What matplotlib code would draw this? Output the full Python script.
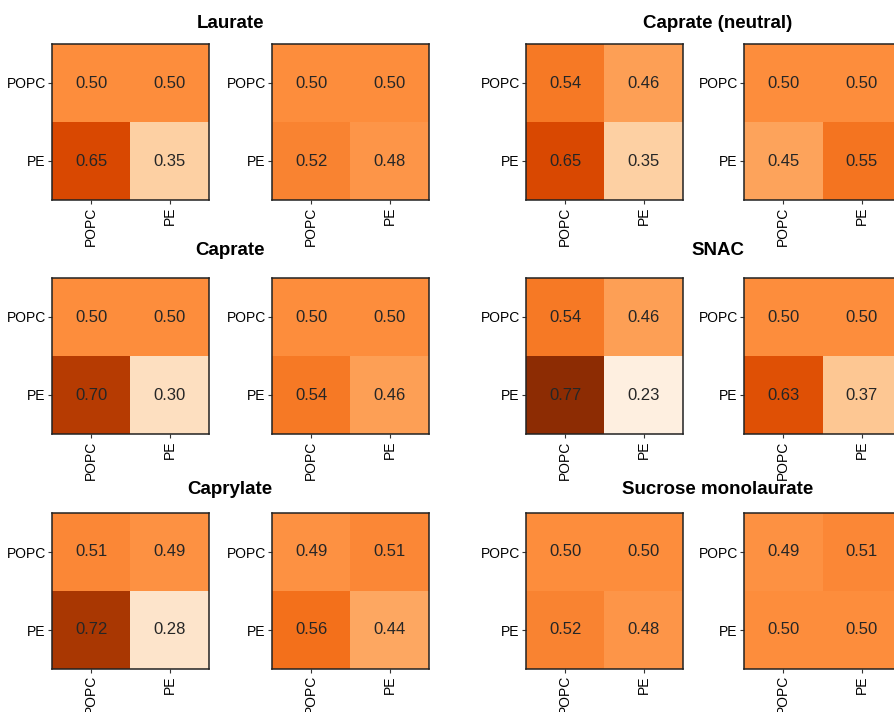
import numpy as np
import matplotlib
matplotlib.use('Agg')
import matplotlib.pyplot as plt

plt.rcParams['font.family'] = ['Liberation Sans', 'DejaVu Sans']

# 数据：每组两个 2x2 矩阵（行 = POPC/PE, 列 = POPC/PE）
lipids = ['POPC', 'PE']
titles = ['Laurate', 'Caprate (neutral)', 'Caprate', 'SNAC',
          'Caprylate', 'Sucrose monolaurate']

laurate_a = [[0.50, 0.50], [0.65, 0.35]]
laurate_b = [[0.50, 0.50], [0.52, 0.48]]
caprate_neutral_a = [[0.54, 0.46], [0.65, 0.35]]
caprate_neutral_b = [[0.50, 0.50], [0.45, 0.55]]
caprate_a = [[0.50, 0.50], [0.70, 0.30]]
caprate_b = [[0.50, 0.50], [0.54, 0.46]]
snac_a = [[0.54, 0.46], [0.77, 0.23]]
snac_b = [[0.50, 0.50], [0.63, 0.37]]
caprylate_a = [[0.51, 0.49], [0.72, 0.28]]
caprylate_b = [[0.49, 0.51], [0.56, 0.44]]
sucrose_a = [[0.50, 0.50], [0.52, 0.48]]
sucrose_b = [[0.49, 0.51], [0.50, 0.50]]

groups = [(laurate_a, laurate_b), (caprate_neutral_a, caprate_neutral_b),
          (caprate_a, caprate_b), (snac_a, snac_b),
          (caprylate_a, caprylate_b), (sucrose_a, sucrose_b)]

W, H = 894, 712
fig = plt.figure(figsize=(W/100, H/100), dpi=100)

# 像素位置
col_left = [52, 272, 526, 744]
row_top = [44, 278, 513]
box_w, box_h = 157, 156
title_x = [230, 718]
title_y = [23, 251, 489]


def draw_map(ax, vals):
    arr = np.array(vals)
    ax.imshow(arr, cmap='Oranges', vmin=0.2, vmax=0.8, aspect='auto')
    for i in range(2):
        for j in range(2):
            ax.text(j, i, '%.2f' % arr[i, j], ha='center', va='center',
                    fontsize=12, color='#262626')
    ax.set_xticks([0, 1])
    ax.set_yticks([0, 1])
    ax.set_xticklabels(lipids, rotation=90, fontsize=10)
    ax.set_yticklabels(lipids, fontsize=10)
    ax.tick_params(length=3, width=0.8, pad=1.5, color='#333333')
    for s in ax.spines.values():
        s.set_linewidth(1.1)
        s.set_color('#222222')


for k, (a, b) in enumerate(groups):
    r = k // 2
    c = k % 2
    for m, vals in enumerate((a, b)):
        x0 = col_left[c*2 + m]
        ax = fig.add_axes([x0/W, 1 - (row_top[r] + box_h)/H, box_w/W, box_h/H])
        draw_map(ax, vals)
    fig.text(title_x[c]/W, 1 - title_y[r]/H, titles[k], ha='center', va='center',
             fontsize=13.5, fontweight='bold')

fig.savefig('out.png', dpi=100)
